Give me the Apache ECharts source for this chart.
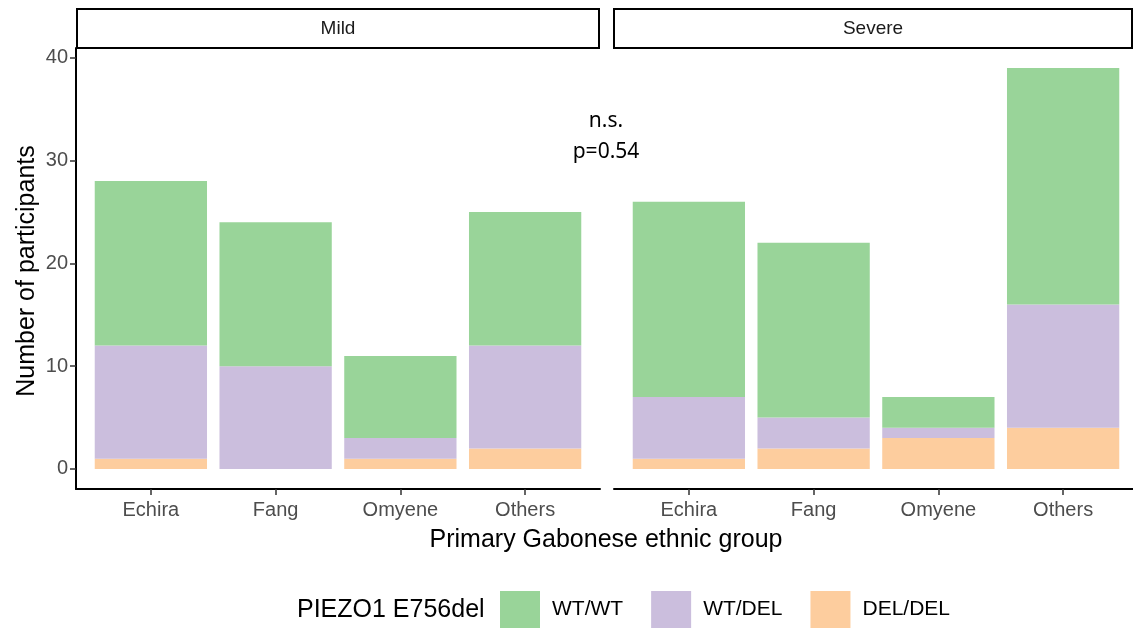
<!DOCTYPE html>
<html>
<head>
<meta charset="utf-8">
<script src="https://cdn.jsdelivr.net/npm/echarts@6/dist/echarts.min.js"></script>
<style>html,body{margin:0;padding:0;background:#fff;}#c{width:1133px;height:629px;}</style>
</head>
<body>
<div id="c"></div>
<script>
const categories = ['Echira', 'Fang', 'Omyene', 'Others'];
const panels = ['Mild', 'Severe'];
const genotypes = ['WT/WT', 'WT/DEL', 'DEL/DEL'];
const mildWTWT = [16, 14, 8, 13];
const mildWTDEL = [11, 10, 2, 10];
const mildDELDEL = [1, 0, 1, 2];
const severeWTWT = [19, 17, 3, 23];
const severeWTDEL = [6, 3, 1, 12];
const severeDELDEL = [1, 2, 3, 4];
const yTicks = [0, 10, 20, 30, 40];
const annotation = ['n.s.', 'p=0.54'];

const colors = {'WT/WT': '#99D499', 'WT/DEL': '#CBBEDD', 'DEL/DEL': '#FDCD9E'};
const FONT = 'Liberation Sans';
const yMin = -1.95, yMax = 40.95;
const gridTop = 48, gridHeight = 441;

const chart = echarts.init(document.getElementById('c'));

function barGrid(left) { return {left: left, top: gridTop, width: 499, height: gridHeight, containLabel: false}; }
function frameGrid(left) { return {left: left, top: gridTop, width: 524, height: gridHeight, containLabel: false}; }

const grids = [barGrid(88.5), frameGrid(76), barGrid(626.5), frameGrid(614)];

function catAxis(gi) {
  return {
    type: 'category', gridIndex: gi, data: categories, boundaryGap: true, position: 'bottom',
    axisLine: {show: false, onZero: false},
    axisTick: {show: true, inside: false, alignWithLabel: true, length: 6, lineStyle: {color: '#333', width: 1.5}},
    axisLabel: {fontFamily: FONT, fontSize: 20, color: '#4D4D4D', margin: 11},
    splitLine: {show: false}
  };
}
function frameX(gi) {
  return {
    type: 'value', gridIndex: gi, min: 0, max: 1, position: 'bottom',
    axisLine: {show: true, onZero: false, lineStyle: {color: '#000', width: 2}},
    axisTick: {show: false}, axisLabel: {show: false}, splitLine: {show: false}
  };
}
function hiddenY(gi) {
  return {type: 'value', gridIndex: gi, min: yMin, max: yMax, show: false, splitLine: {show: false}};
}

const yAxes = [
  hiddenY(0),
  {
    type: 'value', gridIndex: 1, min: yMin, max: yMax,
    axisLine: {show: true, onZero: false, lineStyle: {color: '#000', width: 2}},
    axisTick: {show: true, customValues: yTicks, length: 6, lineStyle: {color: '#333', width: 1.5}},
    axisLabel: {customValues: yTicks, fontFamily: FONT, fontSize: 20, color: '#4D4D4D', margin: 8},
    splitLine: {show: false}
  },
  hiddenY(2),
  hiddenY(3)
];

const panelData = {
  Mild: {'WT/WT': mildWTWT, 'WT/DEL': mildWTDEL, 'DEL/DEL': mildDELDEL},
  Severe: {'WT/WT': severeWTWT, 'WT/DEL': severeWTDEL, 'DEL/DEL': severeDELDEL}
};

const series = [];
panels.forEach((p, pi) => {
  const axisIdx = pi * 2;
  ['DEL/DEL', 'WT/DEL', 'WT/WT'].forEach(g => {
    series.push({
      name: g, type: 'bar', stack: p, xAxisIndex: axisIdx, yAxisIndex: axisIdx,
      barWidth: '90%', data: panelData[p][g],
      itemStyle: {color: colors[g]}, emphasis: {disabled: true}
    });
  });
});

function strip(x, w, label) {
  return [
    {type: 'rect', shape: {x: x, y: 9, width: w, height: 39}, style: {fill: '#fff', stroke: '#000', lineWidth: 2}, z: 10},
    {type: 'text', x: x + w / 2, y: 29, style: {text: label, fontFamily: FONT, fontSize: 19, fill: '#1A1A1A', align: 'center', verticalAlign: 'middle'}, z: 11}
  ];
}

const graphics = [].concat(
  strip(77, 522, panels[0]),
  strip(614, 518, panels[1]),
  [
    {type: 'text', x: 27, y: 271, rotation: Math.PI / 2,
     style: {text: 'Number of participants', fontFamily: FONT, fontSize: 25, fill: '#000', align: 'center', verticalAlign: 'middle'}},
    {type: 'text', x: 606, y: 540,
     style: {text: 'Primary Gabonese ethnic group', fontFamily: FONT, fontSize: 25, fill: '#000', align: 'center', verticalAlign: 'middle'}},
    {type: 'text', x: 606, y: 121,
     style: {text: annotation[0], fontFamily: 'Noto Sans', fontSize: 21, fill: '#000', align: 'center', verticalAlign: 'middle'}},
    {type: 'text', x: 606, y: 152,
     style: {text: annotation[1], fontFamily: 'Noto Sans', fontSize: 21, fill: '#000', align: 'center', verticalAlign: 'middle'}},
    {type: 'text', x: 297, y: 610,
     style: {text: 'PIEZO1 E756del', fontFamily: FONT, fontSize: 25, fill: '#000', align: 'left', verticalAlign: 'middle'}}
  ]
);

chart.setOption({
  animation: false,
  backgroundColor: '#fff',
  grid: grids,
  xAxis: [catAxis(0), frameX(1), catAxis(2), frameX(3)],
  yAxis: yAxes,
  legend: {
    data: genotypes, left: 500, top: 591, orient: 'horizontal', padding: 0,
    itemWidth: 40, itemHeight: 37, itemGap: 28, icon: 'rect',
    selectedMode: false,
    textStyle: {fontFamily: FONT, fontSize: 21, color: '#000', padding: [0, 0, 0, 7]}
  },
  graphic: graphics,
  series: series
});
</script>
</body>
</html>
